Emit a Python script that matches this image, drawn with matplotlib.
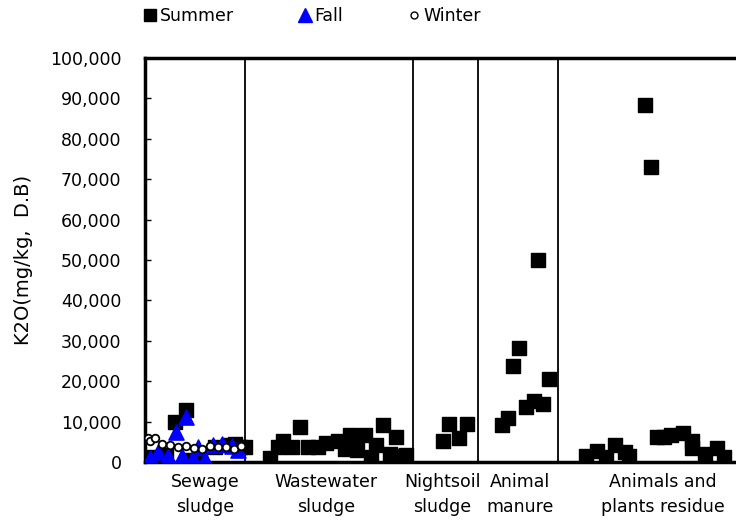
import numpy as np
import matplotlib
matplotlib.use("Agg")
import matplotlib.pyplot as plt
from matplotlib.lines import Line2D
from matplotlib.ticker import FuncFormatter

plt.rcParams['font.family'] = ['DejaVu Sans']

# sample order along the x axis and K2O content (mg/kg, dry basis)
summer_x = [1.4, 4.2, 6.0, 8.2, 9.0, 11.0, 14.0, 16.6, 18.0, 19.0, 20.0,
            25.0, 26.6, 27.6, 29.4, 31.0, 32.6, 34.6, 36.2, 38.6, 40.0,
            41.0, 42.4, 44.0, 45.2, 46.2, 47.6, 49.0, 50.2, 50.4, 52.2,
            59.6, 60.8, 62.8, 64.4,
            71.4, 72.6, 73.6, 74.8, 76.2, 77.8, 78.6, 79.6, 80.8,
            88.2, 90.4, 92.2, 94.0, 96.0, 96.8, 100.0, 101.2, 102.4, 103.8,
            105.2, 107.6, 109.4, 109.4, 112.0, 114.4, 115.8]
summer_y = [1200, 1700, 10000, 12900, 500, 1700, 3700, 4200, 4500, 3700, 3700,
            1000, 3700, 5200, 3700, 8700, 3700, 3700, 4700, 5200, 3200,
            6700, 3000, 6700, 1200, 4200, 9200, 2000, 6200, 1500, 1700,
            5200, 9500, 6000, 9500,
            9200, 10900, 23800, 28300, 13600, 15100, 50100, 14400, 20600,
            1500, 2700, 1200, 4200, 2500, 1500, 88300, 72900, 6200, 6200,
            6700, 7200, 5200, 3500, 2000, 3500, 1200]

fall_x = [1.0, 2.6, 4.6, 6.2, 7.4, 8.2, 9.6, 10.6, 12.0, 13.6, 15.4, 17.4, 18.6]
fall_y = [1000, 2500, 1500, 7500, 1500, 11200, 1000, 3700, 800, 4200, 4500,
          4000, 3000]

winter_x = [0.6, 1.0, 2.0, 3.4, 5.0, 6.6, 8.2, 9.8, 11.4, 13.0, 14.6, 16.2,
            17.8, 19.2]
winter_y = [6000, 5200, 6000, 4500, 4200, 3700, 4000, 3500, 3200, 4000, 3700,
            3700, 3200, 4000]

group_bounds = [20.0, 53.6, 66.6, 82.6]
group_label_x = [12.0, 36.2, 59.4, 75.0, 103.6]
group_labels = ['Sewage\nsludge', 'Wastewater\nsludge', 'Nightsoil\nsludge',
                'Animal\nmanure', 'Animals and\nplants residue']

fig = plt.figure(figsize=(7.36, 5.21), dpi=100)
ax = fig.add_axes([145 / 736, 1 - 462 / 521, (736 - 145) / 736, (462 - 58) / 521])

ax.scatter(summer_x, summer_y, marker='s', s=110, c='black', zorder=3)
ax.scatter(fall_x, fall_y, marker='^', s=120, c='blue', zorder=4)
ax.scatter(winter_x, winter_y, marker='o', s=30, facecolors='white',
           edgecolors='black', linewidths=1.3, zorder=5)

for b in group_bounds:
    ax.axvline(b, color='black', lw=1.3, zorder=2)

ax.set_xlim(0, 118.2)
ax.set_ylim(0, 100000)
ax.set_yticks(np.arange(0, 100001, 10000))
ax.yaxis.set_major_formatter(FuncFormatter(lambda v, p: f'{int(v):,}'))
ax.tick_params(axis='y', direction='in', length=4, width=1, pad=17, labelsize=12.5)
ax.set_xticks(group_label_x)
ax.set_xticklabels(group_labels, fontsize=12.5, linespacing=1.5)
ax.tick_params(axis='x', length=0, pad=8)

for side in ['left', 'bottom', 'top']:
    ax.spines[side].set_linewidth(2.5)
ax.spines['right'].set_visible(False)

ax.set_ylabel('K2O(mg/kg,  D.B)', fontsize=14, labelpad=12)

handles = [
    Line2D([], [], marker='s', color='black', ls='none', markersize=9),
    Line2D([], [], marker='^', color='blue', ls='none', markersize=10),
    Line2D([], [], marker='o', markerfacecolor='white', markeredgecolor='black',
           ls='none', markersize=5),
]
fig.legend(handles, ['Summer', 'Fall', 'Winter'], loc='center left',
           bbox_to_anchor=(143 / 736, 1 - 16 / 521), ncol=3, frameon=False,
           fontsize=12.5, handlelength=0.8, handletextpad=0.15,
           columnspacing=3.7, borderpad=0, borderaxespad=0)

fig.savefig('out.png', dpi=100)
